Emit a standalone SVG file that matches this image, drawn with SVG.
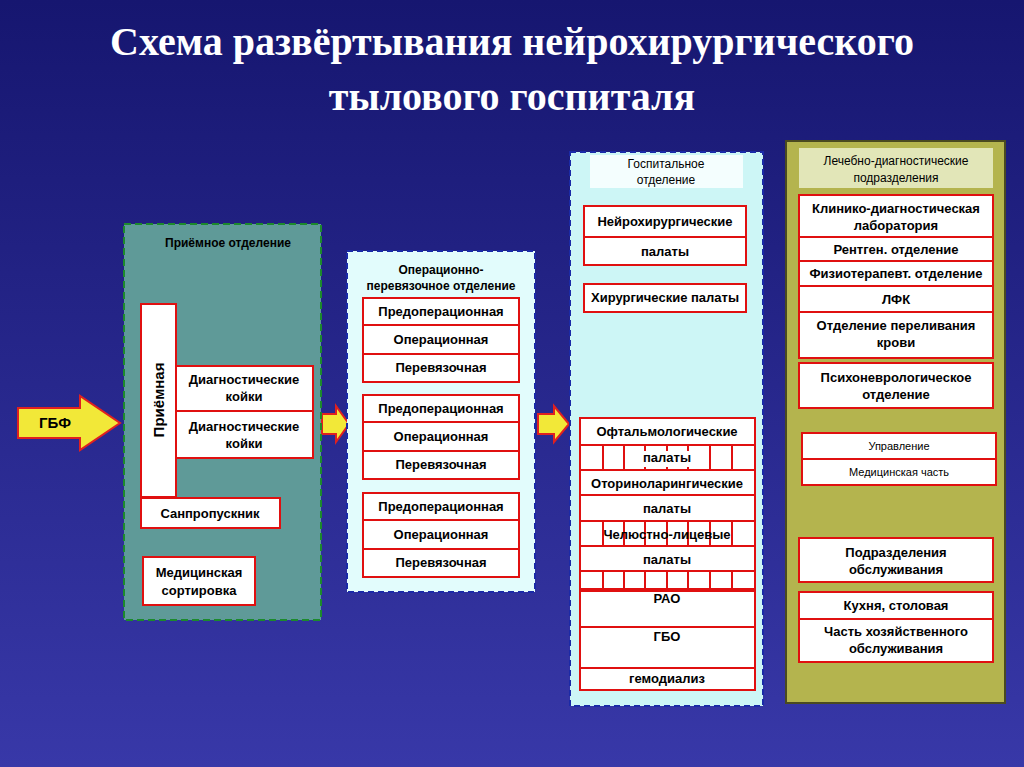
<svg xmlns="http://www.w3.org/2000/svg" width="1024" height="767" viewBox="0 0 1024 767">
<defs>
<linearGradient id="bg" x1="0" y1="0" x2="0" y2="1"><stop offset="0" stop-color="#161670"/><stop offset="1" stop-color="#3838a8"/></linearGradient>
</defs>
<style>
.t{font-family:"Liberation Sans",Arial,sans-serif;font-weight:bold;font-size:13px;fill:#000;text-anchor:middle}
.s{font-size:12px}
.b{fill:#fff;stroke:#e01010;stroke-width:2}
.ar{fill:#f2e838;stroke:#e02020;stroke-width:2}
.title{font-family:"Liberation Serif","Times New Roman",serif;font-weight:bold;font-size:40px;fill:#fff;text-anchor:middle}
</style>
<rect width="1024" height="767" fill="url(#bg)"/>
<text class="title" x="512" y="55">Схема развёртывания нейрохирургического</text>
<text class="title" x="512" y="110">тылового госпиталя</text>

<g id="connectors">
<path class="ar" d="M18,408 H80 V396 L120,423 L80,450 V438 H18 Z"/>
<text class="t" x="55" y="428" style="font-size:15px">ГБФ</text>
<path class="ar" d="M322,414 H336 V406 L349,424 L336,442 V434 H322 Z"/>
<path class="ar" d="M538,414 H554 V406 L569,424 L554,442 V434 H538 Z"/>
</g>

<g id="priem">
<rect x="124" y="224" width="197" height="396" fill="#5f9a98" stroke="#1c8a2c" stroke-width="2" stroke-dasharray="7,4"/>
<text class="t s" x="228" y="247">Приёмное отделение</text>
<rect class="b" x="141" y="304" width="35" height="193"/>
<text class="t" transform="translate(164,400) rotate(-90)" style="font-size:15px">Приёмная</text>
<rect class="b" x="176" y="366" width="137" height="45"/>
<text class="t" x="244" y="384">Диагностические</text><text class="t" x="244" y="401">койки</text>
<rect class="b" x="176" y="411" width="137" height="47"/>
<text class="t" x="244" y="431">Диагностические</text><text class="t" x="244" y="448">койки</text>
<rect class="b" x="141" y="498" width="139" height="30"/>
<text class="t" x="210" y="518">Санпропускник</text>
<rect class="b" x="143" y="557" width="112" height="48"/>
<text class="t" x="199" y="577">Медицинская</text><text class="t" x="199" y="595">сортировка</text>
</g>

<g id="oper">
<rect x="347" y="251" width="188" height="341" fill="#e2fcfc" stroke="#1a2aa8" stroke-width="2" stroke-dasharray="6,4"/>
<text class="t s" x="441" y="274">Операционно-</text><text class="t s" x="441" y="290">перевязочное отделение</text>
<g>
<rect class="b" x="363" y="298" width="156" height="27"/><text class="t" x="441" y="316">Предоперационная</text>
<rect class="b" x="363" y="325" width="156" height="29"/><text class="t" x="441" y="344">Операционная</text>
<rect class="b" x="363" y="354" width="156" height="28"/><text class="t" x="441" y="372">Перевязочная</text>
</g>
<g>
<rect class="b" x="363" y="395" width="156" height="27"/><text class="t" x="441" y="413">Предоперационная</text>
<rect class="b" x="363" y="422" width="156" height="29"/><text class="t" x="441" y="441">Операционная</text>
<rect class="b" x="363" y="451" width="156" height="28"/><text class="t" x="441" y="469">Перевязочная</text>
</g>
<g>
<rect class="b" x="363" y="493" width="156" height="27"/><text class="t" x="441" y="511">Предоперационная</text>
<rect class="b" x="363" y="520" width="156" height="29"/><text class="t" x="441" y="539">Операционная</text>
<rect class="b" x="363" y="549" width="156" height="28"/><text class="t" x="441" y="567">Перевязочная</text>
</g>
</g>

<g id="hosp">
<rect x="570" y="152" width="193" height="554" fill="#cdf6f6" stroke="#1a2aa8" stroke-width="2" stroke-dasharray="6,4"/>
<rect x="590" y="155" width="153" height="33" fill="#f4fefe"/>
<text class="t s" x="666" y="168" style="font-weight:normal">Госпитальное</text><text class="t s" x="666" y="184" style="font-weight:normal">отделение</text>
<rect class="b" x="584" y="206" width="162" height="31"/><text class="t" x="665" y="226">Нейрохирургические</text>
<rect class="b" x="584" y="237" width="162" height="28"/><text class="t" x="665" y="256">палаты</text>
<rect class="b" x="584" y="284" width="162" height="28"/><text class="t" x="665" y="302">Хирургические палаты</text>
<rect class="b" x="580" y="418" width="175" height="272"/>
<g stroke="#e01010" stroke-width="2" fill="none">
<path d="M580,445H755M580,470H755M580,495H755M580,521H755M580,546H755M580,571H755M580,627H755M580,668H755"/>
<path d="M580,590H755" stroke-width="4"/>
<path d="M603,445V470M624,445V470M645,445V470M667,445V470M688,445V470M710,445V470M732,445V470"/>
<path d="M603,521V546M624,521V546M645,521V546M667,521V546M688,521V546M710,521V546M732,521V546"/>
<path d="M603,571V590M624,571V590M645,571V590M667,571V590M688,571V590M710,571V590M732,571V590"/>
</g>
<rect x="626" y="451" width="80" height="16" fill="#fff"/>
<rect x="626" y="500" width="80" height="16" fill="#fff"/>
<rect x="626" y="551" width="80" height="16" fill="#fff"/>
<text class="t" x="667" y="436">Офтальмологические</text>
<text class="t" x="667" y="462">палаты</text>
<text class="t" x="667" y="488">Оториноларингические</text>
<text class="t" x="667" y="513">палаты</text>
<text class="t" x="667" y="539">Челюстно-лицевые</text>
<text class="t" x="667" y="564">палаты</text>
<text class="t" x="667" y="603">РАО</text>
<text class="t" x="667" y="641">ГБО</text>
<text class="t" x="667" y="683">гемодиализ</text>
</g>

<g id="lech">
<rect x="786" y="141" width="219" height="562" fill="#b4b44e" stroke="#4a4a20" stroke-width="2"/>
<rect x="799" y="148" width="194" height="40" fill="#e2e6b8"/>
<text class="t s" x="896" y="165" style="font-weight:normal">Лечебно-диагностические</text><text class="t s" x="896" y="182" style="font-weight:normal">подразделения</text>
<rect class="b" x="799" y="195" width="194" height="42"/><text class="t" x="896" y="213">Клинико-диагностическая</text><text class="t" x="896" y="230">лаборатория</text>
<rect class="b" x="799" y="237" width="194" height="24"/><text class="t" x="896" y="254">Рентген. отделение</text>
<rect class="b" x="799" y="261" width="194" height="25"/><text class="t" x="896" y="278">Физиотерапевт. отделение</text>
<rect class="b" x="799" y="286" width="194" height="26"/><text class="t" x="896" y="304">ЛФК</text>
<rect class="b" x="799" y="312" width="194" height="46"/><text class="t" x="896" y="330">Отделение переливания</text><text class="t" x="896" y="347">крови</text>
<rect class="b" x="799" y="363" width="194" height="45"/><text class="t" x="896" y="382">Психоневрологическое</text><text class="t" x="896" y="399">отделение</text>
<rect class="b" x="802" y="433" width="194" height="26"/><text class="t" x="899" y="450" style="font-size:11px;font-weight:normal">Управление</text>
<rect class="b" x="802" y="459" width="194" height="26"/><text class="t" x="899" y="476" style="font-size:11px;font-weight:normal">Медицинская часть</text>
<rect class="b" x="799" y="538" width="194" height="44"/><text class="t" x="896" y="557">Подразделения</text><text class="t" x="896" y="574">обслуживания</text>
<rect class="b" x="799" y="592" width="194" height="27"/><text class="t" x="896" y="610">Кухня, столовая</text>
<rect class="b" x="799" y="619" width="194" height="43"/><text class="t" x="896" y="636">Часть хозяйственного</text><text class="t" x="896" y="653">обслуживания</text>
</g>
</svg>
